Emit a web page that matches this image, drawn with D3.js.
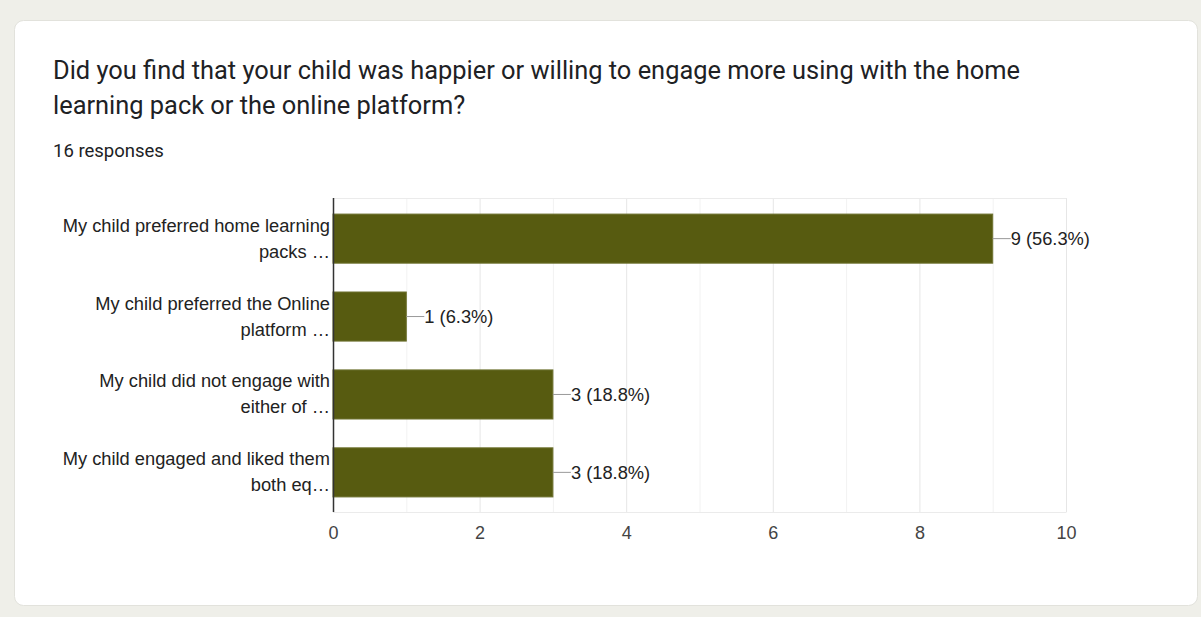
<!DOCTYPE html>
<html><head><meta charset="utf-8">
<script src="https://cdn.jsdelivr.net/npm/d3@7"></script>
<style>
html,body{margin:0;padding:0;background:#efefe9;}
svg{display:block;}
</style></head>
<body>
<svg id="chart" width="1201" height="617"></svg>
<script>
const title1 = "Did you find that your child was happier or willing to engage more using with the home";
const title2 = "learning pack or the online platform?";
const subtitle = "16 responses";
const categories = [
  ["My child preferred home learning", "packs …"],
  ["My child preferred the Online", "platform …"],
  ["My child did not engage with", "either of …"],
  ["My child engaged and liked them", "both eq…"]
];
const values = [9, 1, 3, 3];
const percents = ["56.3%", "6.3%", "18.8%", "18.8%"];
const xTicks = [0, 2, 4, 6, 8, 10];
const gridValues = [1,2,3,4,5,6,7,8,9,10];

(function(){
const svg = d3.select("#chart");
svg.append("rect").attr("x",0).attr("y",0).attr("width",1201).attr("height",617).attr("fill","#efefe9");
svg.append("rect").attr("x",14.5).attr("y",20.5).attr("width",1183).attr("height",585)
  .attr("rx",9).attr("fill","#fff").attr("stroke","#e2e2dc");

const tf = "Roboto, 'Open Sans', sans-serif";
svg.append("text").attr("x",53).attr("y",79).attr("font-family",tf)
  .attr("font-size",25.4).attr("fill","#202124").text(title1);
svg.append("text").attr("x",53).attr("y",114).attr("font-family",tf)
  .attr("font-size",25.4).attr("fill","#202124").text(title2);
svg.append("text").attr("x",53).attr("y",157).attr("font-family",tf)
  .attr("font-size",18.5).attr("fill","#202124").text(subtitle);

const pLeft = 333, pRight = 1066, pTop = 198, pBottom = 512;
const x = d3.scaleLinear().domain([0,10]).range([pLeft,pRight]);
const y = d3.scaleBand().domain(d3.range(values.length)).range([pTop,pBottom]).paddingInner(0.37).paddingOuter(0.2);
const lf = "Arial, 'Liberation Sans', sans-serif";

const g = svg.append("g");
g.selectAll("line.grid").data(gridValues).join("line")
  .attr("x1",d=>x(d)+0.5).attr("x2",d=>x(d)+0.5).attr("y1",pTop).attr("y2",pBottom)
  .attr("stroke", d => d%2===0 ? "#e6e6e6" : "#f2f2f2").attr("stroke-width",1);
g.append("line").attr("x1",pLeft).attr("x2",pRight+0.5).attr("y1",pTop+0.5).attr("y2",pTop+0.5).attr("stroke","#ebebeb");
g.append("line").attr("x1",pLeft).attr("x2",pRight+0.5).attr("y1",pBottom+0.5).attr("y2",pBottom+0.5).attr("stroke","#ebebeb");

g.selectAll("rect.bar").data(values).join("rect")
  .attr("x",x(0)).attr("y",(d,i)=>y(i)+0.5).attr("width",d=>x(d)-x(0)).attr("height",y.bandwidth())
  .attr("fill","#575b10").attr("stroke","#6e7230").attr("stroke-width",1);

g.append("line").attr("x1",pLeft+0.5).attr("x2",pLeft+0.5).attr("y1",pTop).attr("y2",pBottom)
  .attr("stroke","#333").attr("stroke-width",1.5);

values.forEach((v,i)=>{
  const cy = y(i)+y.bandwidth()/2;
  g.append("line").attr("x1",x(v)).attr("x2",x(v)+18).attr("y1",cy+0.5).attr("y2",cy+0.5).attr("stroke","#999");
  g.append("text").attr("x",x(v)+18).attr("y",cy+7).attr("font-family",lf)
    .attr("font-size",18.3).attr("fill","#222").text(v+" ("+percents[i]+")");
});

categories.forEach((lines,i)=>{
  const cy = y(i)+y.bandwidth()/2;
  lines.forEach((t,j)=>{
    g.append("text").attr("x",330).attr("y",cy-13+j*26+6.5).attr("text-anchor","end")
      .attr("font-family",lf).attr("font-size",18.3).attr("fill","#222").text(t);
  });
});

const ax = d3.axisBottom(x).tickValues(xTicks).tickSize(0).tickPadding(14);
const axg = svg.append("g").attr("transform",`translate(0,${pBottom})`).call(ax);
axg.select(".domain").remove();
axg.selectAll("text").attr("font-family",lf).attr("font-size",18).attr("fill","#444");
})();
</script>
</body></html>
